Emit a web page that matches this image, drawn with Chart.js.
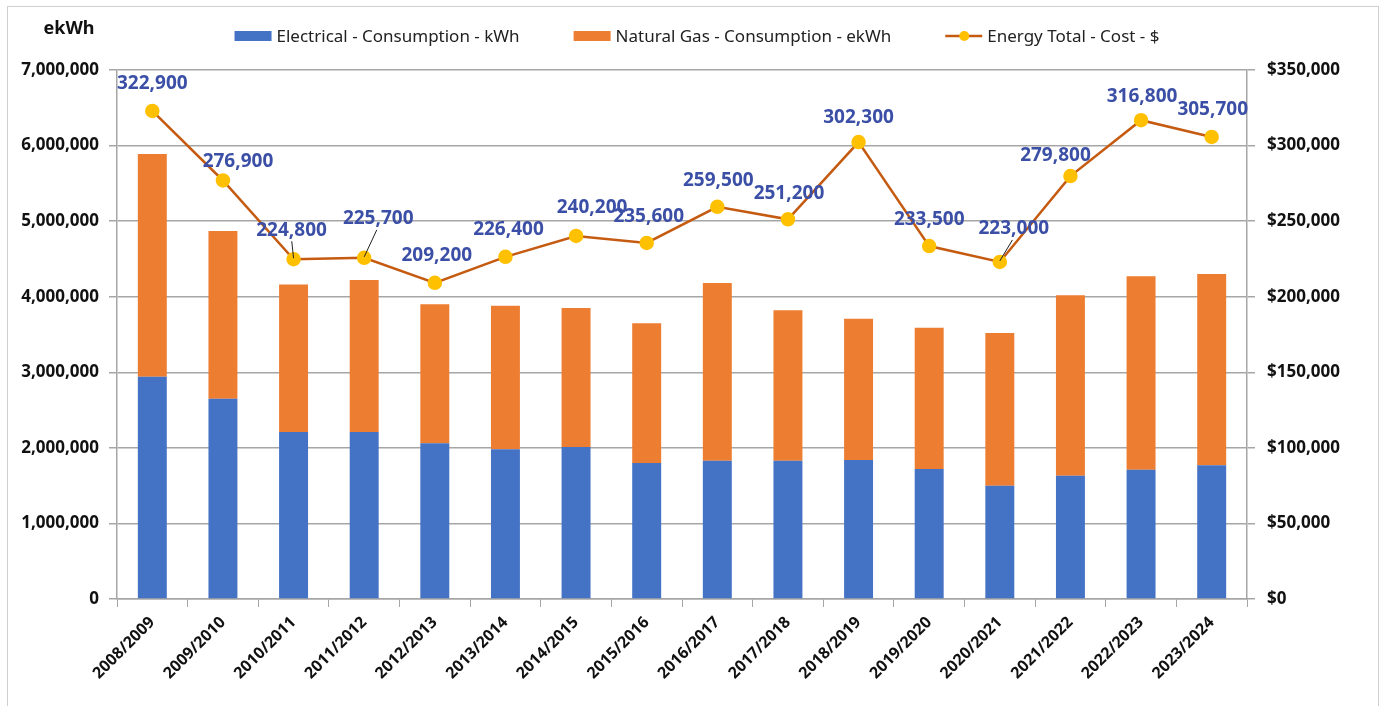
<!DOCTYPE html>
<html>
<head>
<meta charset="utf-8">
<script src="https://cdn.jsdelivr.net/npm/chart.js@4"></script>
<style>
  body { margin: 0; background: #fff; }
  canvas { display: block; }
</style>
</head>
<body>
<canvas id="energyChart" width="1385" height="706"></canvas>
<script>
// data

const years = [
  "2008/2009", "2009/2010", "2010/2011", "2011/2012", "2012/2013", "2013/2014",
  "2014/2015", "2015/2016", "2016/2017", "2017/2018", "2018/2019", "2019/2020",
  "2020/2021", "2021/2022", "2022/2023", "2023/2024",
];
const electrical = [
  2940000, 2650000, 2210000, 2210000, 2060000, 1980000, 2010000, 1800000,
  1830000, 1830000, 1840000, 1720000, 1500000, 1630000, 1710000, 1770000,
];
const naturalGas = [
  2950000, 2220000, 1950000, 2010000, 1840000, 1900000, 1840000, 1850000,
  2350000, 1990000, 1870000, 1870000, 2020000, 2390000, 2560000, 2530000,
];
const totalCost = [
  322900, 276900, 224800, 225700, 209200, 226400, 240200, 235600,
  259500, 251200, 302300, 233500, 223000, 279800, 316800, 305700,
];
const leftTicks = [0, 1000000, 2000000, 3000000, 4000000, 5000000, 6000000, 7000000];
const rightTicks = [0, 50000, 100000, 150000, 200000, 250000, 300000, 350000];

// label nudges (dx, dy) and which labels get a leader line
const labelNudge = [
  [0, -1], [15, 7], [-2, -3], [14, -13], [2, -1], [3, -1], [16, -2], [2, 0],
  [1, 0], [1, 0], [0, 1], [0, 0], [14, -7], [-15, 5], [1, 2], [1, -1],
];
const leaderLines = [2, 3, 12];

const BLUE = "#4472C4";
const ORANGE = "#ED7D31";
const LINE = "#C55A11";
const DOT = "#FFC000";
const LABEL = "#3B4FA6";
const GRID = "#a6a6a6";
const FONT = "'Noto Sans', sans-serif";

const fmt = (v) => v.toLocaleString("en-US");

// frame, legend and axis title
const decorations = {
  id: "decorations",
  beforeDraw(chart) {
    const ctx = chart.ctx;
    ctx.save();
    ctx.fillStyle = "#fff";
    ctx.fillRect(0, 0, chart.width, chart.height);
    ctx.strokeStyle = "#cfcfcf";
    ctx.lineWidth = 1;
    ctx.strokeRect(7.5, 6.5, 1371, 720);
    ctx.restore();
  },
  afterDraw(chart) {
    const ctx = chart.ctx;
    ctx.save();
    // axis unit
    ctx.font = "bold 18px " + FONT;
    ctx.fillStyle = "#111";
    ctx.textAlign = "center";
    ctx.textBaseline = "middle";
    ctx.fillText("ekWh", 69, 29);

    // legend
    ctx.font = "17px " + FONT;
    ctx.textAlign = "left";
    const items = [
      { type: "box", color: BLUE, text: "Electrical - Consumption - kWh" },
      { type: "box", color: ORANGE, text: "Natural Gas - Consumption - ekWh" },
      { type: "line", color: LINE, text: "Energy Total - Cost - $" },
    ];
    const gap = 54;
    let total = 0;
    items.forEach((it, i) => {
      it.w = 37 + 5 + ctx.measureText(it.text).width;
      total += it.w + (i ? gap : 0);
    });
    let x = 697 - total / 2;
    const y = 36;
    items.forEach((it) => {
      if (it.type === "box") {
        ctx.fillStyle = it.color;
        ctx.fillRect(x, y - 5, 37, 10);
      } else {
        ctx.strokeStyle = it.color;
        ctx.lineWidth = 2.5;
        ctx.beginPath();
        ctx.moveTo(x, y);
        ctx.lineTo(x + 37, y);
        ctx.stroke();
        ctx.fillStyle = DOT;
        ctx.beginPath();
        ctx.arc(x + 19, y, 5, 0, Math.PI * 2);
        ctx.fill();
      }
      ctx.fillStyle = "#222";
      ctx.fillText(it.text, x + 42, y + 1);
      x += it.w + gap;
    });
    ctx.restore();
  },
  afterDatasetsDraw(chart) {
    const ctx = chart.ctx;
    const meta = chart.getDatasetMeta(2);
    ctx.save();
    ctx.font = "bold 19px " + FONT;
    ctx.textAlign = "center";
    ctx.textBaseline = "middle";
    meta.data.forEach((pt, i) => {
      const lx = pt.x + labelNudge[i][0];
      const ly = pt.y - 26 + labelNudge[i][1];
      if (leaderLines.includes(i)) {
        ctx.strokeStyle = "#222";
        ctx.lineWidth = 1;
        ctx.beginPath();
        ctx.moveTo(lx + (pt.x - lx) * 0.1, ly + 11);
        ctx.lineTo(pt.x, pt.y - 1);
        ctx.stroke();
      }
      ctx.fillStyle = LABEL;
      ctx.fillText(fmt(totalCost[i]), lx, ly);
    });
    ctx.restore();
  },
};

const chart_1 = document.getElementById("energyChart");

new Chart(chart_1, {
  data: {
    labels: years,
    datasets: [
      {
        type: "bar",
        label: "Electrical - Consumption - kWh",
        data: electrical,
        backgroundColor: BLUE,
        yAxisID: "y",
        order: 1,
        categoryPercentage: 1,
        barPercentage: 0.41,
      },
      {
        type: "bar",
        label: "Natural Gas - Consumption - ekWh",
        data: naturalGas,
        backgroundColor: ORANGE,
        yAxisID: "y",
        order: 2,
        categoryPercentage: 1,
        barPercentage: 0.41,
      },
      {
        type: "line",
        label: "Energy Total - Cost - $",
        data: totalCost,
        borderColor: LINE,
        borderWidth: 2.5,
        pointBackgroundColor: DOT,
        pointBorderColor: DOT,
        pointRadius: 6,
        yAxisID: "y1",
        order: 0,
      },
    ],
  },
  options: {
    responsive: false,
    animation: false,
    layout: { padding: { left: 8, right: 8, top: 70, bottom: 0 } },
    plugins: {
      legend: { display: false },
      tooltip: { enabled: true },
    },
    scales: {
      x: {
        stacked: true,
        offset: true,
        grid: {
          offset: true,
          drawOnChartArea: false,
          drawTicks: true,
          tickLength: 8,
          color: GRID,
        },
        border: { color: GRID, width: 1.5 },
        ticks: {
          autoSkip: false,
          maxRotation: 45,
          minRotation: 45,
          padding: 6,
          color: "#111",
          font: { family: FONT, size: 16, weight: "bold" },
        },
        afterFit(scale) {
          scale.height = 107;
        },
      },
      y: {
        stacked: true,
        position: "left",
        min: 0,
        max: 7000000,
        afterBuildTicks(scale) {
          scale.ticks = leftTicks.map((v) => ({ value: v }));
        },
        grid: { color: GRID, lineWidth: 1.5, tickLength: 8 },
        border: { color: GRID, width: 1.5 },
        ticks: {
          padding: 10,
          color: "#111",
          font: { family: FONT, size: 17, weight: "bold" },
          callback: (v) => fmt(v),
        },
        afterFit(scale) {
          scale.width = 109;
        },
      },
      y1: {
        position: "right",
        min: 0,
        max: 350000,
        afterBuildTicks(scale) {
          scale.ticks = rightTicks.map((v) => ({ value: v }));
        },
        grid: { drawOnChartArea: false, color: GRID, lineWidth: 1.5, tickLength: 8 },
        border: { color: GRID, width: 1.5 },
        ticks: {
          padding: 12,
          color: "#111",
          font: { family: FONT, size: 17, weight: "bold" },
          callback: (v) => "$" + fmt(v),
        },
        afterFit(scale) {
          scale.width = 130;
        },
      },
    },
  },
  plugins: [decorations],
});
</script>
</body>
</html>
